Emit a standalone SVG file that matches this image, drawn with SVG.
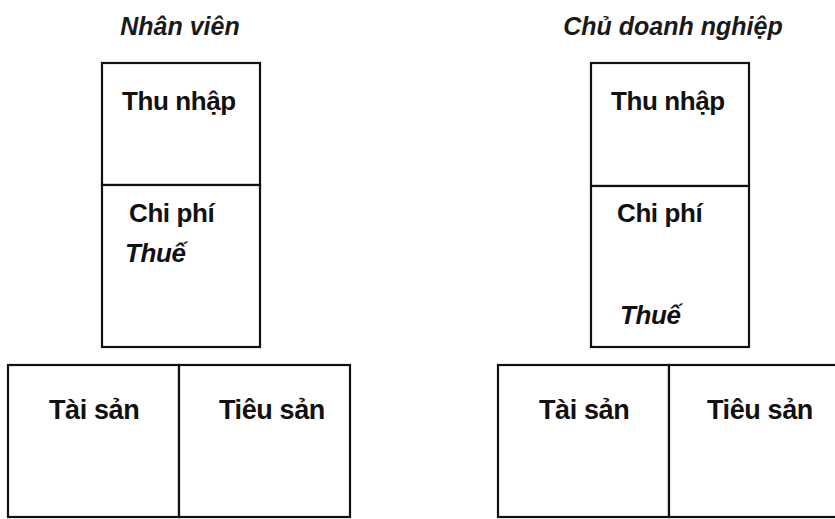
<svg xmlns="http://www.w3.org/2000/svg" width="835" height="519" viewBox="0 0 835 519">
<style>
.box{fill:#fff;stroke:#111;stroke-width:2.2}
.t{font-family:"Liberation Sans",Arial,sans-serif;font-weight:bold;font-size:26px;letter-spacing:-0.4px;fill:#111}
.b{font-size:27px}
.i{font-style:italic}
.h{font-family:"Liberation Sans",Arial,sans-serif;font-weight:bold;font-style:italic;font-size:25px;fill:#1a1a1a}
</style>
<rect width="835" height="519" fill="#fff"/>
<g id="title-left"><text class="h" x="180" y="35" text-anchor="middle">Nhân viên</text></g>
<g id="title-right"><text class="h" x="673" y="35" text-anchor="middle">Chủ doanh nghiệp</text></g>
<g id="left-income">
<rect class="box" x="102" y="63" width="158" height="122"/>
<text class="t" x="122" y="110">Thu nhập</text>
</g>
<g id="left-expense">
<rect class="box" x="102" y="185" width="158" height="162"/>
<text class="t" x="129" y="222">Chi phí</text>
<text class="t i" x="125" y="262">Thuế</text>
</g>
<g id="right-income">
<rect class="box" x="591" y="63" width="158" height="123"/>
<text class="t" x="611" y="110">Thu nhập</text>
</g>
<g id="right-expense">
<rect class="box" x="591" y="186" width="158" height="161"/>
<text class="t" x="617" y="222">Chi phí</text>
<text class="t i" x="620" y="324">Thuế</text>
</g>
<g id="left-assets">
<rect class="box" x="8" y="365" width="171" height="152"/>
<text class="t b" x="49" y="419">Tài sản</text>
</g>
<g id="left-liabilities">
<rect class="box" x="179" y="365" width="171" height="152"/>
<text class="t b" x="219" y="419">Tiêu sản</text>
</g>
<g id="right-assets">
<rect class="box" x="498" y="365" width="171" height="152"/>
<text class="t b" x="539" y="419">Tài sản</text>
</g>
<g id="right-liabilities">
<rect class="box" x="669" y="365" width="170" height="152"/>
<text class="t b" x="707" y="419">Tiêu sản</text>
</g>
<g id="connectors"></g>
</svg>
